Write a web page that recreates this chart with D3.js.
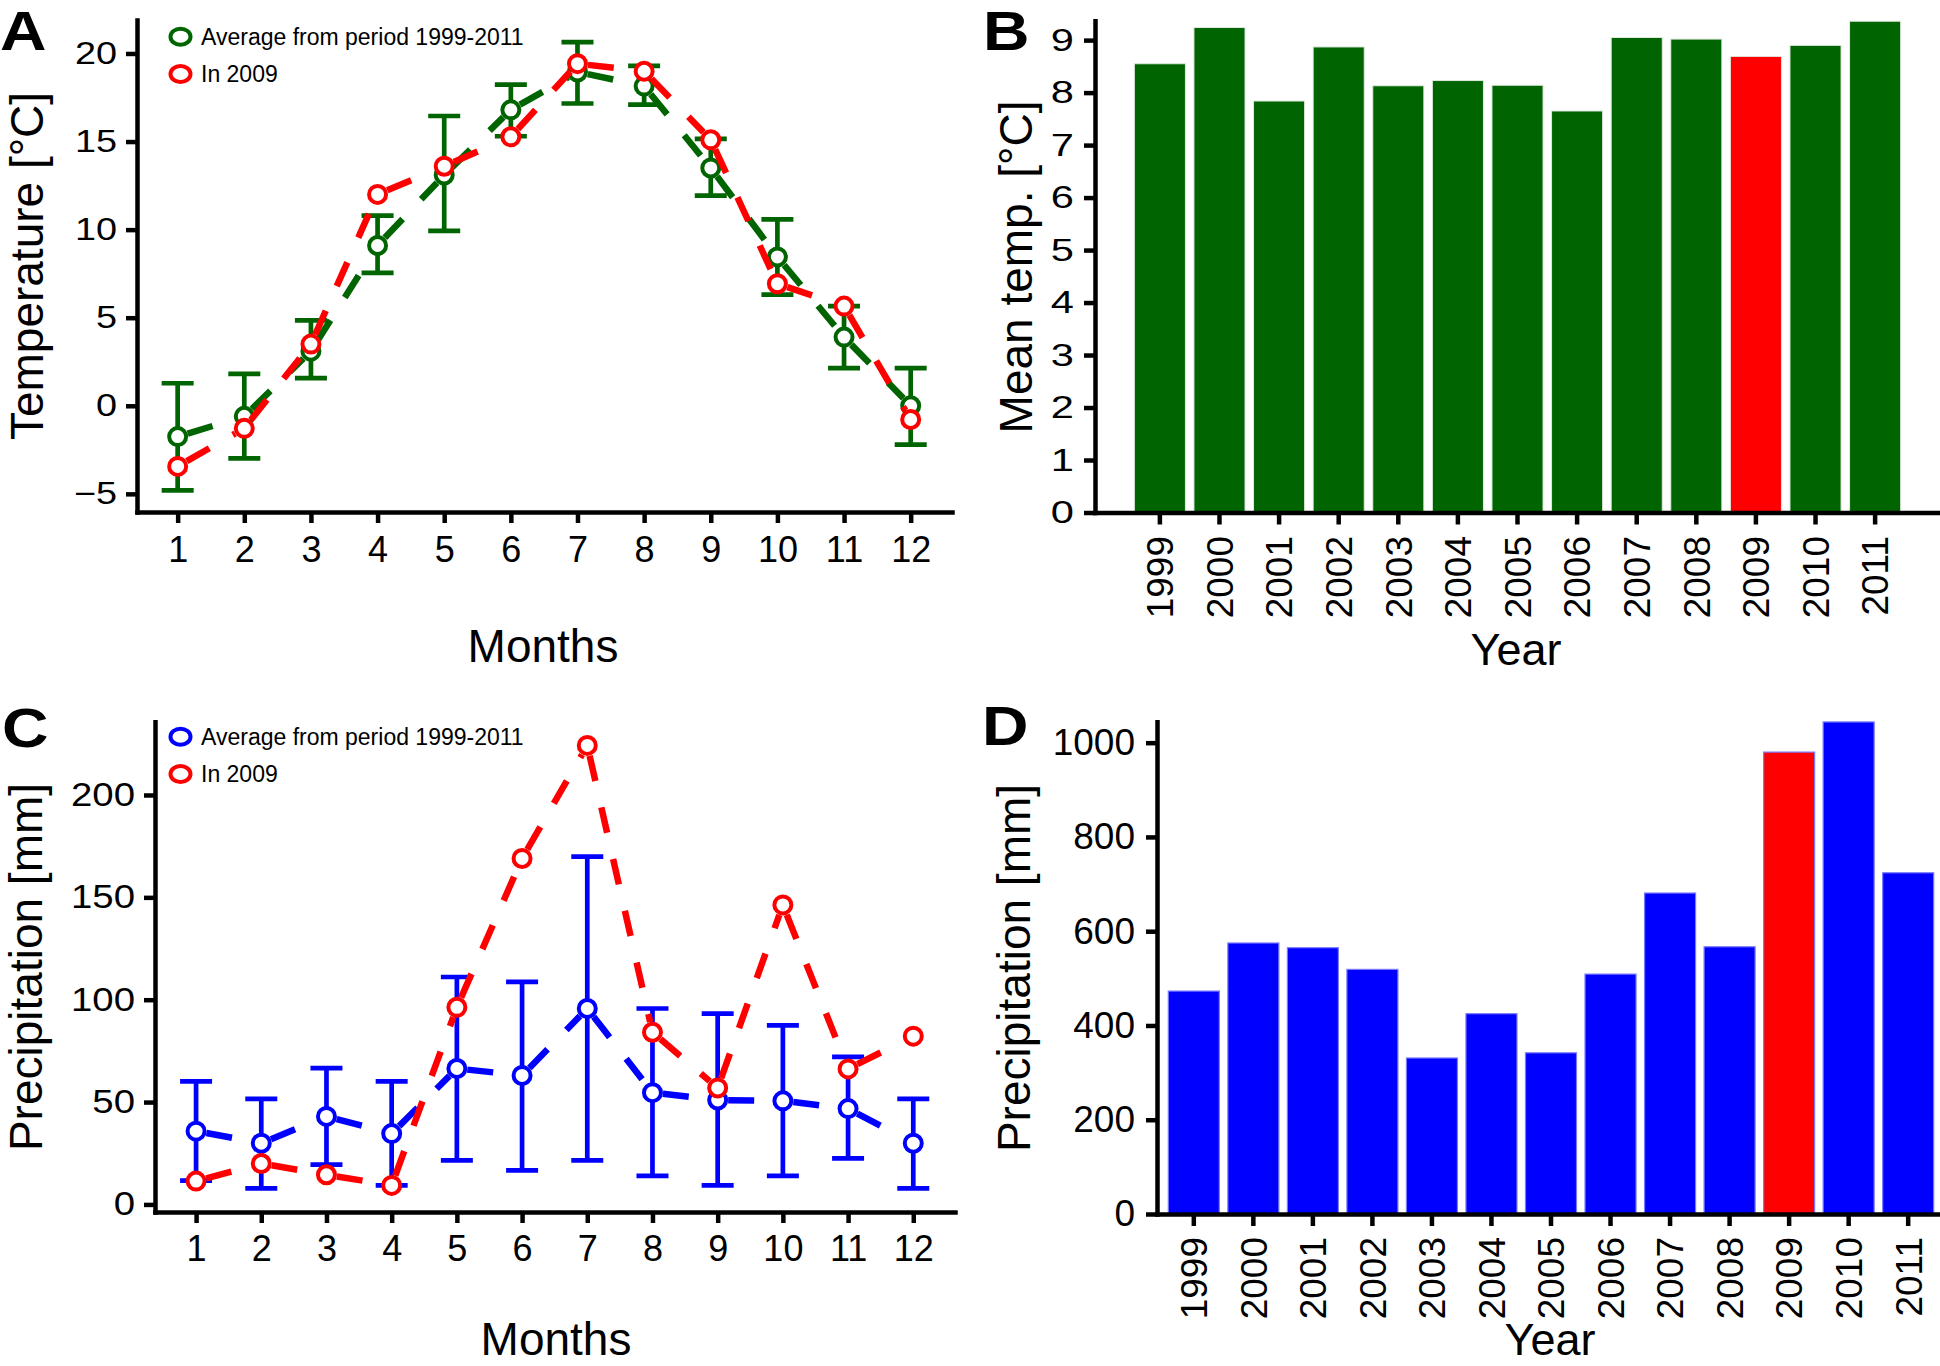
<!DOCTYPE html>
<html><head><meta charset="utf-8">
<script src="https://cdn.jsdelivr.net/npm/d3@7"></script>
<style>
body{margin:0;background:#fff}
svg{display:block}
</style>
</head><body>
<svg id="chart" width="1940" height="1366"></svg>
<script>
// ---------------- DATA ----------------
const months = [1,2,3,4,5,6,7,8,9,10,11,12];
const tempAvg  = [-1.75, -0.6, 3.1, 9.1, 13.1, 16.8, 18.95, 18.15, 13.5, 8.45, 3.9, 0.0];
const tempHi   = [1.28, 1.81, 4.85, 10.8, 16.45, 18.23, 20.64, 19.3, 15.15, 10.58, 5.66, 2.14];
const tempLo   = [-4.8, -2.99, 1.57, 7.54, 9.93, 15.3, 17.16, 17.1, 11.93, 6.31, 2.14, -2.2];
const temp2009 = [-3.44, -1.28, 3.5, 12.0, 13.6, 15.27, 19.42, 18.99, 15.1, 6.93, 5.66, -0.78];

const precAvg  = [35.8, 29.9, 43.0, 34.6, 66.4, 63.0, 95.7, 54.6, 51.0, 50.6, 46.8, 29.9];
const precHi   = [60.1, 51.6, 66.6, 60.1, 111.1, 108.7, 169.9, 95.7, 93.2, 87.5, 72.1, 51.6];
const precLo   = [11.6, 7.8, 19.4, 9.3, 21.5, 16.6, 21.5, 13.9, 9.3, 13.9, 22.5, 7.8];
const prec2009 = [11.4, 20.0, 14.5, 9.3, 96.3, 169.0, 224.2, 84.1, 56.9, 146.3, 66.2, 82.2];

const years     = ["1999","2000","2001","2002","2003","2004","2005","2006","2007","2008","2009","2010","2011"];
const yearTemp  = [8.55, 9.24, 7.84, 8.87, 8.13, 8.23, 8.14, 7.65, 9.05, 9.02, 8.69, 8.9, 9.36];
const yearPrec  = [473, 575, 565, 519, 331, 425, 342, 509, 681, 567, 980, 1044, 724];
const highlightYear = "2009";

const tempTicks = [-5, 0, 5, 10, 15, 20];
const meanTempTicks = [0,1,2,3,4,5,6,7,8,9];
const precTicks = [0, 50, 100, 150, 200];
const yearPrecTicks = [0, 200, 400, 600, 800, 1000];
const legendLabels = ["Average from period 1999-2011", "In 2009"];

// ---------------- STYLE ----------------
const FONT = '"Liberation Sans", Arial, Helvetica, sans-serif';
const GREEN = "#006400", RED = "#ff0000", BLUE = "#0000ff";
const svg = d3.select("#chart");

function styleAxis(g, fs) {
  g.attr("font-family", FONT).attr("font-size", fs);
  g.select(".domain").attr("stroke", "#000").attr("stroke-width", 4.5).attr("stroke-linecap", "square");
  g.selectAll(".tick line").attr("stroke", "#000").attr("stroke-width", 4.5);
  g.selectAll(".tick text").attr("fill", "#000");
}
function yAxis(x0, scale, ticks, fs, sx, pad) {
  const g = svg.append("g").attr("transform", `translate(${x0},0)`);
  g.call(d3.axisLeft(scale).tickValues(ticks).tickSize(11).tickSizeOuter(0).tickPadding(pad).tickFormat(d3.format("d")));
  styleAxis(g, fs);
  g.selectAll(".tick text").each(function(){
    const t = d3.select(this); const x = +t.attr("x");
    t.attr("x", 0).attr("transform", `translate(${x},0) scale(${sx},1)`);
  });
  return g;
}
function xAxisNum(y0, scale, ticks, fs, baseOff) {
  const g = svg.append("g").attr("transform", `translate(0,${y0})`);
  g.call(d3.axisBottom(scale).tickValues(ticks).tickSize(11).tickSizeOuter(0).tickFormat(d3.format("d")));
  styleAxis(g, fs);
  g.selectAll(".tick text").attr("y", baseOff).attr("dy", 0);
  return g;
}
function xAxisBand(y0, scale, fs, endOff) {
  const g = svg.append("g").attr("transform", `translate(0,${y0})`);
  g.call(d3.axisBottom(scale).tickSize(12).tickSizeOuter(0));
  styleAxis(g, fs);
  g.selectAll(".tick text").attr("x", 0).attr("y", 0).attr("dy", 0)
    .attr("text-anchor", "end")
    .attr("transform", `translate(${fs*0.36},${endOff}) rotate(-90)`);
  return g;
}
function title(x, y, txt, fs, rot) {
  svg.append("text").attr("font-family", FONT).attr("font-size", fs).attr("text-anchor", "middle")
    .attr("transform", `translate(${x},${y})` + (rot ? " rotate(-90)" : "")).text(txt);
}
function letter(x, y, txt) {
  svg.append("text").attr("font-family", FONT).attr("font-size", 55).attr("font-weight", "bold")
    .attr("transform", `translate(${x},${y}) scale(1.17,1)`).text(txt);
}

function errorBars(x, y, lo, hi, color) {
  const g = svg.append("g").attr("stroke", color).attr("stroke-width", 4.7).attr("fill", "none");
  months.forEach((m, i) => {
    const cx = x(m);
    g.append("line").attr("x1", cx).attr("x2", cx).attr("y1", y(lo[i])).attr("y2", y(hi[i]));
    g.append("line").attr("x1", cx - 16).attr("x2", cx + 16).attr("y1", y(lo[i])).attr("y2", y(lo[i]));
    g.append("line").attr("x1", cx - 16).attr("x2", cx + 16).attr("y1", y(hi[i])).attr("y2", y(hi[i]));
  });
}
function series(x, y, vals, color) {
  const pts = months.map((m, i) => [x(m), y(vals[i])]);
  const g = svg.append("g");
  const R = 10.5;
  for (let i = 0; i < pts.length - 1; i++) {
    const [x0, y0] = pts[i], [x1, y1] = pts[i+1];
    const dx = x1 - x0, dy = y1 - y0, L = Math.hypot(dx, dy);
    if (L <= 2 * R) continue;
    const ux = dx / L, uy = dy / L;
    g.append("line").attr("x1", x0 + ux*R).attr("y1", y0 + uy*R)
      .attr("x2", x1 - ux*R).attr("y2", y1 - uy*R)
      .attr("stroke", color).attr("stroke-width", 6.5).attr("stroke-dasharray", "26,27")
      .attr("stroke-linecap", "butt");
  }
  g.selectAll("circle").data(pts).join("circle")
    .attr("cx", d => d[0]).attr("cy", d => d[1]).attr("r", 8.5)
    .attr("fill", "#fff").attr("stroke", color).attr("stroke-width", 4);
}
function legend(x, y0, colors) {
  colors.forEach((c, i) => {
    const cy = y0 + i * 37.3;
    svg.append("ellipse").attr("cx", x).attr("cy", cy).attr("rx", 10).attr("ry", 8)
      .attr("fill", "none").attr("stroke", c).attr("stroke-width", 4);
    svg.append("text").attr("font-family", FONT).attr("font-size", 23)
      .attr("x", x + 20.5).attr("y", cy + 8.3).text(legendLabels[i]);
  });
}

// ---------------- PANEL A ----------------
{
  const x = d3.scaleLinear().domain([0.39, 12.62]).range([137, 952]);
  const y = d3.scaleLinear().domain([-6.03, 21.9]).range([512, 20]);
  errorBars(x, y, tempLo, tempHi, GREEN);
  series(x, y, tempAvg, GREEN);
  series(x, y, temp2009, RED);
  yAxis(137, y, tempTicks, 31.5, 1.2, 9);
  xAxisNum(512, x, months, 36, 49.5);
  title(43, 266, "Temperature [°C]", 46, true);
  title(543, 662, "Months", 46, false);
  legend(180.5, 36.7, [GREEN, RED]);
  letter(0, 50, "A");
}

// ---------------- PANEL B ----------------
{
  const x = d3.scaleBand().domain(years).range([1095, 1940]).paddingInner(0.143).paddingOuter(0.66);
  const y = d3.scaleLinear().domain([0, 9.37]).range([512.5, 20.7]);
  svg.append("g").selectAll("rect").data(years).join("rect")
    .attr("x", d => x(d)).attr("width", x.bandwidth())
    .attr("y", (d, i) => y(yearTemp[i])).attr("height", (d, i) => y(0) - y(yearTemp[i]))
    .attr("fill", d => d === highlightYear ? RED : GREEN)
    .attr("stroke", "#dfeadf").attr("stroke-width", 1);
  yAxis(1095, y, meanTempTicks, 32, 1.3, 10);
  xAxisBand(512.5, x, 37, 23.5);
  title(1032, 267, "Mean temp. [°C]", 46, true);
  title(1516, 665, "Year", 45, false);
  letter(983, 50, "B");
}

// ---------------- PANEL C ----------------
{
  const x = d3.scaleLinear().domain([0.37, 12.64]).range([155, 955]);
  const y = d3.scaleLinear().domain([-3.7, 235.8]).range([1212, 721.7]);
  errorBars(x, y, precLo, precHi, BLUE);
  series(x, y, precAvg, BLUE);
  series(x, y, prec2009, RED);
  yAxis(155, y, precTicks, 32.5, 1.18, 9);
  xAxisNum(1212, x, months, 36, 49);
  title(42, 967, "Precipitation [mm]", 46, true);
  title(556, 1355, "Months", 46, false);
  legend(180.5, 736.7, [BLUE, RED]);
  letter(2, 747, "C");
}

// ---------------- PANEL D ----------------
{
  const x = d3.scaleBand().domain(years).range([1157, 1945]).paddingInner(0.143).paddingOuter(0.19);
  const y = d3.scaleLinear().domain([0, 1044.5]).range([1214, 721.7]);
  svg.append("g").selectAll("rect").data(years).join("rect")
    .attr("x", d => x(d)).attr("width", x.bandwidth())
    .attr("y", (d, i) => y(yearPrec[i])).attr("height", (d, i) => y(0) - y(yearPrec[i]))
    .attr("fill", d => d === highlightYear ? RED : BLUE)
    .attr("stroke", "#7a7aff").attr("stroke-width", 1.2);
  yAxis(1157, y, yearPrecTicks, 37, 1.0, 11);
  xAxisBand(1214, x, 37, 23);
  title(1030, 968, "Precipitation [mm]", 46, true);
  title(1550, 1355, "Year", 45, false);
  letter(982, 745, "D");
}
</script>
</body></html>
